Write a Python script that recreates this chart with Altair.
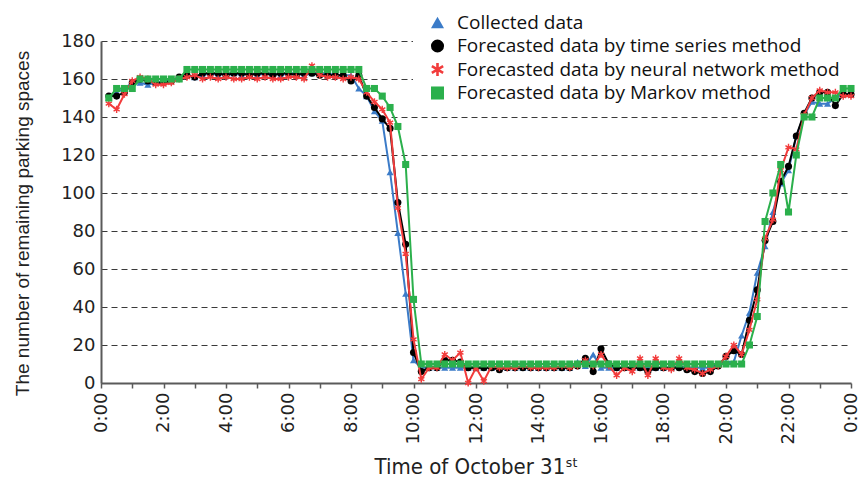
import altair as alt
import pandas as pd

# Sampling instants: every 15 minutes from 0:15 to 24:00 (hours)
hours = [0.25 * k for k in range(1, 97)]

collected = [
    150, 153, 155, 158,  158, 157, 158, 159,  160, 160, 162, 161,
    162, 163, 162, 163,  163, 162, 163, 162,  163, 163, 162, 163,
    163, 162, 163, 163,  163, 162, 162, 162,  155, 151, 143, 138,
    111, 79, 47, 12,     8, 8, 8, 8,          8, 8, 8, 8,
    8, 8, 8, 8,          8, 8, 8, 8,          8, 8, 8, 8,
    11, 9, 15, 8,        8, 8, 8, 8,          8, 8, 8, 8,
    8, 9, 8, 8,          8, 8, 10, 11,        11, 25, 37, 58,
    72, 90, 105, 112,    130, 141, 148, 147,  147, 150, 152, 152,
]

time_series = [
    151, 151, 153, 158,  160, 159, 158, 158,  159, 161, 162, 161,
    163, 163, 163, 162,  163, 163, 162, 163,  163, 162, 163, 163,
    162, 163, 163, 162,  162, 162, 162, 159,  162, 151, 145, 139,
    134, 95, 73, 16,     6, 8, 8, 12,         12, 11, 8, 8,
    8, 8, 7, 8,          8, 8, 8, 8,          8, 8, 8, 8,
    9, 13, 6, 18,        10, 8, 8, 8,         8, 6, 8, 8,
    8, 8, 7, 6,          5, 6, 9, 14,         17, 15, 33, 49,
    75, 85, 106, 114,    130, 142, 150, 153,  153, 146, 152, 152,
]

neural_net = [
    147, 144, 152, 159,  161, 160, 157, 157,  158, 160, 161, 162,
    160, 161, 160, 161,  160, 160, 161, 160,  161, 160, 160, 161,
    161, 160, 167, 162,  161, 161, 160, 161,  160, 153, 148, 144,
    137, 92, 68, 23,     2, 8, 8, 15,         12, 16, 0, 8,
    1, 9, 8, 8,          8, 9, 8, 8,          8, 8, 9, 8,
    9, 12, 9, 15,        9, 4, 8, 6,          13, 4, 13, 8,
    7, 13, 8, 7,         5, 7, 9, 14,         20, 15, 28, 44,
    76, 86, 112, 124,    123, 141, 150, 154,  153, 153, 151, 151,
]

markov = [
    150, 155, 155, 155,  160, 160, 160, 160,  160, 160, 165, 165,
    165, 165, 165, 165,  165, 165, 165, 165,  165, 165, 165, 165,
    165, 165, 165, 165,  165, 165, 165, 165,  165, 155, 155, 151,
    145, 135, 115, 44,   10, 10, 10, 10,      10, 10, 10, 10,
    10, 10, 10, 10,      10, 10, 10, 10,      10, 10, 10, 10,
    10, 10, 10, 10,      10, 10, 10, 10,      10, 10, 10, 10,
    10, 10, 10, 10,      10, 10, 10, 10,      10, 10, 20, 35,
    85, 100, 115, 90,    120, 140, 140, 150,  150, 150, 155, 155,
]

series_names = [
    "Collected data",
    "Forecasted data by time series method",
    "Forecasted data by neural network method",
    "Forecasted data by Markov method",
]
series_values = [collected, time_series, neural_net, markov]
series_colors = ["#3b7bc8", "#000000", "#f23c3c", "#2bb04c"]

# six-armed asterisk built from three filled bars
ASTERISK = (
    "M-0.2,-1L0.2,-1L0.2,1L-0.2,1Z "
    "M-0.966,-0.327L-0.766,-0.673L0.966,0.327L0.766,0.673Z "
    "M-0.766,0.673L-0.966,0.327L0.766,-0.673L0.966,-0.327Z"
)
series_shapes = ["triangle-up", "circle", ASTERISK, "square"]

df = pd.concat(
    [pd.DataFrame({"hour": hours, "spaces": vals, "series": name})
     for name, vals in zip(series_names, series_values)],
    ignore_index=True,
)

W, H = 750, 342

x_enc = alt.X(
    "hour:Q",
    scale=alt.Scale(domain=[0, 24], nice=False, zero=False),
    title="Time of October 31ˢᵗ",
    axis=alt.Axis(
        values=list(range(25)),
        labelExpr="datum.value % 2 == 0 ? (datum.value % 24) + ':00' : ''",
        labelAngle=-90,
        labelFont="DejaVu Sans",
        labelFontSize=18,
        labelColor="#222222",
        labelPadding=4,
        labelOverlap=False,
        grid=False,
        domainColor="#5a5a5a",
        domainWidth=2,
        tickColor="#5a5a5a",
        tickSize=5,
        tickWidth=1.5,
        titleFont="'Liberation Sans Narrow', 'DejaVu Sans Condensed', 'Roboto Condensed', 'Liberation Sans', sans-serif",
        titleFontSize=22,
        titleFontWeight="normal",
        titleColor="#222222",
        titleBaseline="top",
        titleY=73,
    ),
)

y_enc = alt.Y(
    "spaces:Q",
    scale=alt.Scale(domain=[0, 180], nice=False),
    title="The number of remaining parking spaces",
    axis=alt.Axis(
        values=list(range(0, 181, 20)),
        labelFont="DejaVu Sans",
        labelFontSize=18,
        labelColor="#222222",
        labelPadding=6,
        ticks=False,
        grid=True,
        gridDash=[6, 4],
        gridColor="#3a3a3a",
        gridWidth=1.2,
        domainColor="#5a5a5a",
        domainWidth=2,
        titleFont="Liberation Sans",
        titleFontSize=19,
        titleFontWeight="normal",
        titleColor="#222222",
        titleX=-69,
        titleY=182,
    ),
)

legend = alt.Legend(
    title=None,
    orient="none",
    legendX=327,
    legendY=-28,
    labelFont="Open Sans",
    labelFontSize=19,
    labelColor="#111111",
    labelOffset=10,
    labelLimit=0,
    symbolSize=170,
    symbolStrokeWidth=0,
    symbolOpacity=1,
    rowPadding=3.5,
    padding=0,
)

color_enc = alt.Color(
    "series:N",
    scale=alt.Scale(domain=series_names, range=series_colors),
    legend=legend,
    sort=series_names,
)
shape_enc = alt.Shape(
    "series:N",
    scale=alt.Scale(domain=series_names, range=series_shapes),
    legend=legend,
    sort=series_names,
)

base = alt.Chart(df)

# white panel behind the legend, hiding the gridlines there
panel = alt.Chart(pd.DataFrame({"k": [0]})).mark_rect(color="white").encode(
    x=alt.value(312), x2=alt.value(752), y=alt.value(-41), y2=alt.value(65)
)

layers = [panel]
for name, col in zip(series_names, series_colors):
    sub = base.transform_filter(alt.datum.series == name)
    layers.append(
        sub.mark_line(strokeWidth=2, color=col).encode(x=x_enc, y=y_enc)
    )
    layers.append(
        sub.mark_point(filled=True, size=50, opacity=1, strokeWidth=0).encode(
            x=x_enc, y=y_enc, color=color_enc, shape=shape_enc
        )
    )

chart = (
    alt.layer(*layers)
    .properties(
        width=W,
        height=H,
        autosize=alt.AutoSizeParams(type="none"),
        padding={"left": 101, "top": 41, "right": 8, "bottom": 100},
        background="white",
    )
    .configure_view(strokeWidth=0)
)

chart.save("out.html", embed_options={"renderer": "svg", "actions": False})
